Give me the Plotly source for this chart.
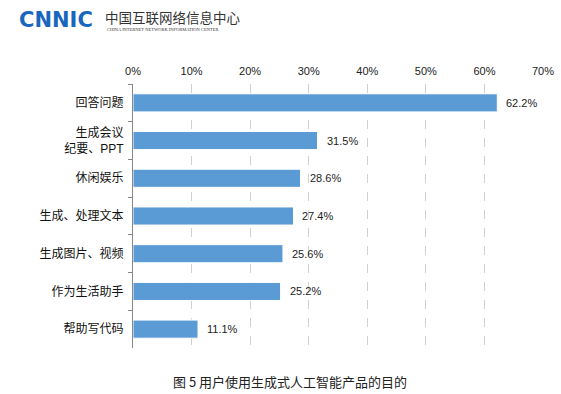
import plotly.graph_objects as go

categories = ["回答问题", "生成会议<br>纪要、PPT", "休闲娱乐", "生成、处理文本", "生成图片、视频", "作为生活助手", "帮助写代码"]
values = [62.2, 31.5, 28.6, 27.4, 25.6, 25.2, 11.1]
tick_vals = [0, 10, 20, 30, 40, 50, 60, 70]
tick_text = [f"{v}%" for v in tick_vals]
caption = "图 5 用户使用生成式人工智能产品的目的"

BAR = "#5B9BD5"
FONT = "Liberation Sans, Noto Sans CJK SC, sans-serif"

L, R, T, B = 133, 18, 84, 46
W, H = 561, 394
PW, PH = W - L - R, H - T - B

def px(x):
    return (x - L) / PW

def py(y):
    return 1 - (y - T) / PH

fig = go.Figure()
fig.add_trace(go.Bar(
    y=categories, x=values, orientation="h", width=0.48,
    marker=dict(color=BAR, line=dict(color="white", width=1)),
    showlegend=False,
))

for c, v in zip(categories, values):
    fig.add_annotation(x=v, y=c, text=f"{v}%", showarrow=False,
                       xanchor="left", xshift=7,
                       font=dict(size=11, color="#222", family=FONT))

fig.update_layout(
    width=W, height=H,
    margin=dict(l=L, r=R, t=T, b=B),
    paper_bgcolor="white", plot_bgcolor="white",
    font=dict(family=FONT, size=12, color="#111"),
    xaxis=dict(
        side="top", range=[0, 70], tickvals=tick_vals, ticktext=tick_text,
        showgrid=True, gridcolor="#D0D0D0", griddash="dash", gridwidth=1,
        zeroline=False, showline=False, ticks="", automargin=False,
        tickfont=dict(size=11, color="#222"), ticklabelstandoff=6,
    ),
    yaxis=dict(
        autorange="reversed", showline=True, linecolor="#888", linewidth=1,
        ticks="outside", tickson="boundaries", ticklen=4, tickcolor="#888",
        tickfont=dict(size=12, color="#111"), showgrid=False, automargin=False,
        ticklabelstandoff=6,
    ),
)

# logo
fig.add_annotation(xref="paper", yref="paper", x=px(17), y=py(20),
                   text="<b>CNNIC</b>", showarrow=False, xanchor="left", yanchor="middle",
                   font=dict(size=21, color="#1767BE", family="DejaVu Sans, sans-serif"))
fig.add_annotation(xref="paper", yref="paper", x=px(103), y=py(17),
                   text="中国互联网络信息中心", showarrow=False, xanchor="left", yanchor="middle",
                   font=dict(size=13.5, color="#333", family="Noto Sans CJK SC"))
fig.add_annotation(xref="paper", yref="paper", x=px(105), y=py(29),
                   text="CHINA INTERNET NETWORK INFORMATION CENTER", showarrow=False,
                   xanchor="left", yanchor="middle",
                   font=dict(size=4.5, color="#333", family="Liberation Serif"))
fig.add_annotation(xref="paper", yref="paper", x=px(290), y=py(381),
                   text=caption, showarrow=False, xanchor="center", yanchor="middle",
                   font=dict(size=13, color="#222", family="Noto Sans CJK SC"))

fig.write_html("out.html", config={"displayModeBar": False},
               post_script="document.body.style.margin='0';")
